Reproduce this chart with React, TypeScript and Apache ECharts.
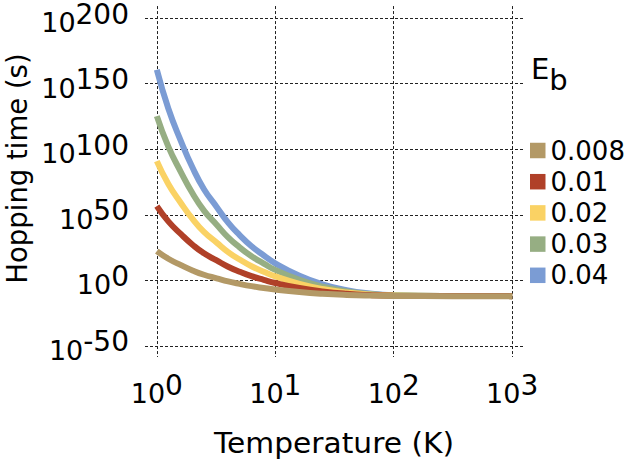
import { useEffect, useRef } from 'react';
import * as echarts from 'echarts';

// Temperature samples (K)
const temperatures = [1, 1.25, 1.6, 2, 2.5, 3.2, 4, 5, 6.3, 8, 10, 16, 25, 40, 63, 100, 316, 1000];
// log10 of hopping time (s), one array per barrier energy
const logTime008 = [22.3, 16.5, 11.6, 7.6, 4.3, 1.6, -0.8, -2.7, -4.4, -5.8, -7.0, -8.9, -10.2, -11.1, -11.6, -11.85, -12, -12];
const logTime01 = [56.6, 45, 35.2, 27.2, 20.6, 15.2, 10.4, 6.6, 3.2, 0.4, -2, -5.8, -8.4, -10.2, -11.2, -11.7, -11.96, -12];
const logTime02 = [90.9, 73.5, 58.8, 46.8, 36.9, 28.8, 21.6, 15.9, 10.8, 6.6, 3, -2.7, -6.6, -9.3, -10.8, -11.55, -11.94, -12];
const logTime03 = [125.2, 102, 82.4, 66.4, 53.2, 42.4, 32.8, 25.2, 18.4, 12.8, 8, 0.4, -4.8, -8.4, -10.4, -11.4, -11.92, -12];
const logTime04 = [160.5, 131, 106, 86, 69.5, 56, 44, 34.5, 26, 19, 13, 3.5, -3, -7.5, -10, -11.25, -11.9, -12];

const energyLabels = ['0.008', '0.01', '0.02', '0.03', '0.04'];
const seriesValues = [logTime008, logTime01, logTime02, logTime03, logTime04];
const seriesColors = ['#B39966', '#B04028', '#FAD264', '#96AE83', '#7B9CD4'];

const xTickExponents = [0, 1, 2, 3];
const yTickExponents = [-50, 0, 50, 100, 150, 200];

const FONT = 'DejaVu Sans';

export default function App() {
  const ref = useRef<HTMLDivElement>(null);

  useEffect(() => {
    if (!ref.current) return;
    const chart = echarts.init(ref.current, null, { renderer: 'svg' });

    const labelRich = {
      b: { fontSize: 27, lineHeight: 27, verticalAlign: 'bottom', fontFamily: FONT, color: '#000' },
      e: { fontSize: 28, lineHeight: 36, verticalAlign: 'top', fontFamily: FONT, color: '#000' },
    };
    const fmt = (v: number) => `{b|10}{e|${Math.round(v)}}`;
    const gridLine = { show: true, lineStyle: { color: '#222', type: [3, 2], width: 1 } };

    const series = seriesValues
      .map((vals, i) => ({
        name: energyLabels[i],
        type: 'line',
        data: temperatures.map((t, k) => [Math.log10(t), vals[k]]),
        showSymbol: false,
        smooth: 0.5,
        lineStyle: { color: seriesColors[i], width: 6, cap: 'butt' },
        itemStyle: { color: seriesColors[i] },
        emphasis: { disabled: true },
      }))
      .reverse();

    chart.setOption({
      animation: false,
      textStyle: { fontFamily: FONT },
      grid: { left: 145, top: 6, width: 379, height: 351 },
      xAxis: {
        type: 'value',
        min: -0.1,
        max: 3.1,
        axisLine: { show: false },
        axisTick: { show: false, customValues: xTickExponents },
        axisLabel: { customValues: xTickExponents, margin: 14, formatter: fmt, rich: labelRich },
        splitLine: gridLine,
      },
      yAxis: {
        type: 'value',
        min: -58.4,
        max: 209.1,
        axisLine: { show: false },
        axisTick: { show: false, customValues: yTickExponents },
        axisLabel: { customValues: yTickExponents, margin: 16, formatter: fmt, rich: labelRich },
        splitLine: gridLine,
      },
      legend: {
        orient: 'vertical',
        left: 530,
        top: 137.5,
        padding: 0,
        itemWidth: 15.5,
        itemHeight: 15.5,
        itemGap: 5.2,
        icon: 'rect',
        data: energyLabels,
        textStyle: { fontSize: 26, lineHeight: 26, fontFamily: FONT, color: '#000' },
        selectedMode: false,
      },
      graphic: [
        {
          type: 'text',
          x: 334,
          y: 443,
          scaleX: 1.06,
          style: {
            text: 'Temperature (K)',
            font: `28px "${FONT}"`,
            fill: '#000',
            textAlign: 'center',
            textVerticalAlign: 'middle',
          },
        },
        {
          type: 'text',
          x: 17,
          y: 168.5,
          rotation: Math.PI / 2,
          style: {
            text: 'Hopping time (s)',
            font: `27.5px "${FONT}"`,
            fill: '#000',
            textAlign: 'center',
            textVerticalAlign: 'middle',
          },
        },
        {
          type: 'text',
          left: 531,
          top: 54,
          style: {
            text: '{E|E}{s|b}',
            rich: {
              E: { fontSize: 29, lineHeight: 40, verticalAlign: 'top', fontFamily: FONT, fill: '#000' },
              s: { fontSize: 29, lineHeight: 29, verticalAlign: 'bottom', fontFamily: FONT, fill: '#000' },
            },
          },
        },
      ],
      series,
    });

    return () => chart.dispose();
  }, []);

  return (
    <div
      ref={ref}
      style={{ position: 'fixed', left: 0, top: 0, width: 628, height: 463, background: '#fff' }}
    />
  );
}
